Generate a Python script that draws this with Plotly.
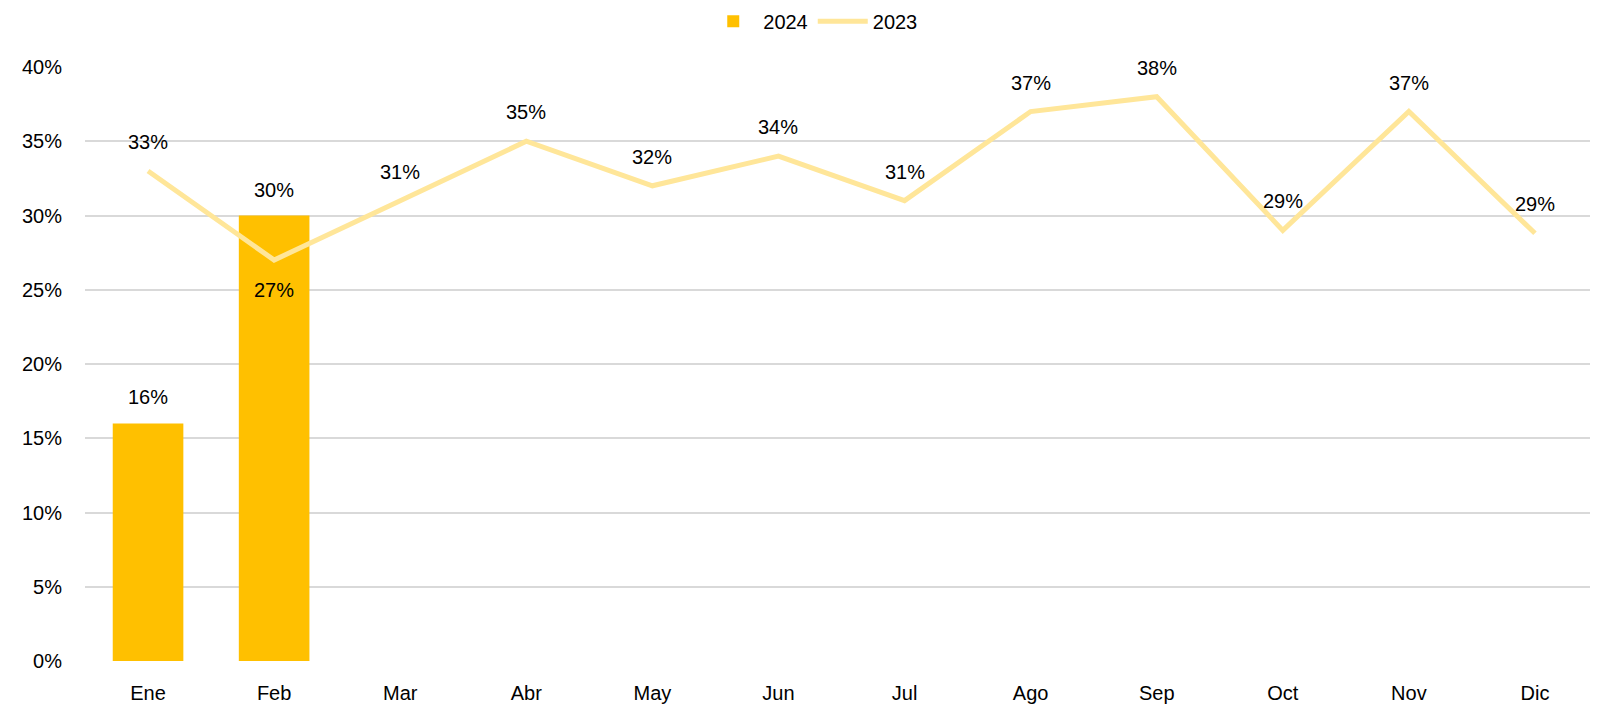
import plotly.graph_objects as go

months = ["Ene", "Feb", "Mar", "Abr", "May", "Jun", "Jul", "Ago", "Sep", "Oct", "Nov", "Dic"]
vals_2024 = [0.16, 0.30]
vals_2023 = [0.33, 0.27, 0.31, 0.35, 0.32, 0.34, 0.31, 0.37, 0.38, 0.29, 0.37, 0.288]
labels_2024 = ["16%", "30%"]
labels_2023 = ["33%", "27%", "31%", "35%", "32%", "34%", "31%", "37%", "38%", "29%", "37%", "29%"]
label_below_2023 = ["Feb"]

FONT = "Liberation Sans"
FS = 20
fig = go.Figure()
fig.add_trace(go.Bar(x=months[:len(vals_2024)], y=vals_2024, name="2024",
                     marker=dict(color="#FFC000", line=dict(width=0)), width=0.56))
fig.add_trace(go.Scatter(x=months, y=vals_2023, name="2023", mode="lines",
                         line=dict(color="#FFE699", width=5)))

annotations = []
for m, v, t in zip(months, vals_2024, labels_2024):
    annotations.append(dict(x=m, y=v, text=t, showarrow=False, yshift=26,
                            font=dict(family=FONT, size=FS, color="#000")))
for m, v, t in zip(months, vals_2023, labels_2023):
    ys = -30 if m in label_below_2023 else 29
    annotations.append(dict(x=m, y=v, text=t, showarrow=False, yshift=ys,
                            font=dict(family=FONT, size=FS, color="#000")))

fig.update_layout(
    width=1590, height=700,
    margin=dict(l=77, r=0, t=59, b=47, autoexpand=False),
    plot_bgcolor="white", paper_bgcolor="white",
    font=dict(family=FONT, size=FS, color="#000"),
    showlegend=True,
    legend=dict(orientation="h", x=0.481, xanchor="center", y=1.077, yanchor="middle",
                font=dict(family=FONT, size=FS, color="#000"), itemwidth=50,
                tracegroupgap=0),
    annotations=annotations,
    xaxis=dict(categoryorder="array", categoryarray=months, range=[-0.5, 11.5],
               showgrid=False, showline=False, zeroline=False, ticks="",
               ticklabelstandoff=18,
               tickfont=dict(family=FONT, size=FS, color="#000")),
    yaxis=dict(range=[0, 0.40], dtick=0.05, tickformat=".0%", showgrid=True,
               gridcolor="#D9D9D9", gridwidth=1.5, zeroline=False, showline=False,
               ticks="", ticklabelstandoff=22,
               tickfont=dict(family=FONT, size=FS, color="#000")),
)
fig.write_html("out.html")
